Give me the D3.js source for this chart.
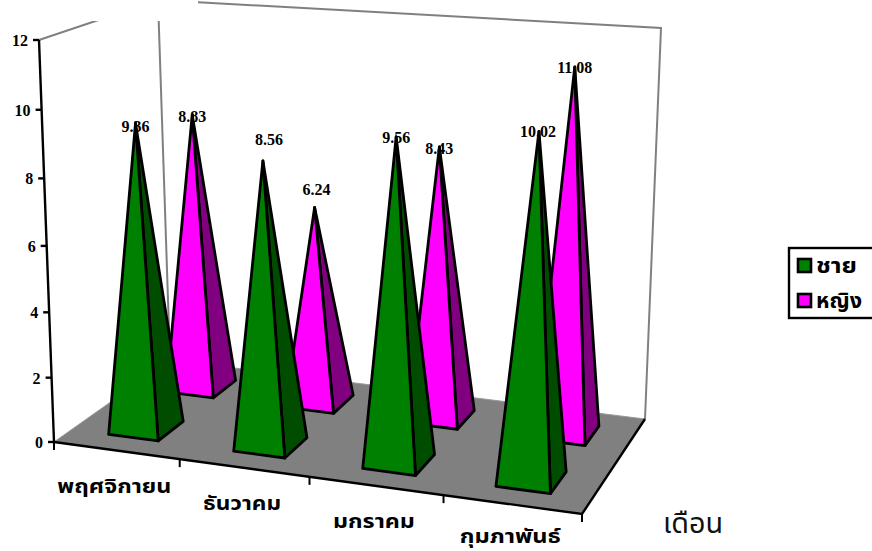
<!DOCTYPE html>
<html><head><meta charset="utf-8">
<script src="https://cdn.jsdelivr.net/npm/d3@7"></script>
<style>html,body{margin:0;padding:0;background:#fff;overflow:hidden}svg{display:block}</style>
</head><body><svg id="c" width="872" height="551"></svg>
<script>
const categories = ["พฤศจิกายน","ธันวาคม","มกราคม","กุมภาพันธ์"];
const seriesNames = ["ชาย","หญิง"];
const male = [9.36,8.56,9.56,10.02];
const female = [8.83,6.24,8.43,11.08];
const valueTicks = [0,2,4,6,8,10,12];
const axisTitle = "เดือน";
const colors = {"ชาย":["#008000","#004d00"],"หญิง":["#ff00ff","#800080"]};

const floorQuad=[[54,442],[582,514],[645,419],[170,360]];
const topQuad=[[39,40],[600,78],[661,28],[158,0]];
function homography(q){
  const [[x0,y0],[x1,y1],[x2,y2],[x3,y3]]=q;
  const dx1=x1-x2,dx2=x3-x2,sx=x0-x1+x2-x3,dy1=y1-y2,dy2=y3-y2,sy=y0-y1+y2-y3;
  const den=dx1*dy2-dx2*dy1,g=(sx*dy2-dx2*sy)/den,h=(dx1*sy-sx*dy1)/den;
  const a=x1-x0+g*x1,b=x3-x0+h*x3,d=y1-y0+g*y1,e=y3-y0+h*y3;
  return (u,v)=>{const w=g*u+h*v+1;return [(a*u+b*v+x0)/w,(d*u+e*v+y0)/w];};
}
const hF=homography(floorQuad),hT=homography(topQuad);
const yScale=d3.scaleLinear().domain([0,12]).range([0,1]);
const uScale=d3.scaleBand().domain(categories).range([0,1]);
const vScale=d3.scaleBand().domain(seriesNames).range([0,1]);
const bend=1.05;
function project(u,v,val){
  const w=yScale(val),s=w/(w+(1-w)*bend),f=hF(u,v),t=hT(u,v);
  return [f[0]+(t[0]-f[0])*s,f[1]+(t[1]-f[1])*s];
}
const svg=d3.select("#c");
const line=d3.line();
const gray="#808080";
const wall=(pts,c,sw)=>svg.append("path").attr("d",line(pts)).attr("fill","none").attr("stroke",c).attr("stroke-width",sw).attr("stroke-linejoin","miter");
// walls
wall([project(0,0,12),project(0,1,12),project(1,1,12),project(1,1,0)],gray,2);
wall([project(0,1,12),project(0,1,0)],gray,2);
// floor
svg.append("path").attr("d",line([[0,0],[1,0],[1,1],[0,1]].map(p=>project(p[0],p[1],0)))+"Z").attr("fill",gray).attr("stroke","#999").attr("stroke-width",1);
// title mask
svg.append("rect").attr("x",0).attr("y",0).attr("width",198).attr("height",21).attr("fill","#fff");
// pyramids
const halfU=0.2,halfV=0.22;
const rows=[{name:"หญิง",vals:female},{name:"ชาย",vals:male}];
const labelShift={"ชาย":[[0,9],[6,-16],[0,6],[-1,6]],"หญิง":[[0,7],[2,-12],[0,7],[0,6]]};
rows.forEach(r=>{
  const vc=vScale(r.name)+vScale.bandwidth()/2;
  r.vals.forEach((val,i)=>{
    const uc=uScale(categories[i])+uScale.bandwidth()/2;
    const uw=uScale.bandwidth()*halfU,vw=vScale.bandwidth()*halfV;
    const fl=project(uc-uw,vc-vw,0),fr=project(uc+uw,vc-vw,0),br=project(uc+uw,vc+vw,0),apex=project(uc,vc,val);
    svg.append("path").attr("d",line([fr,br,apex])+"Z").attr("fill",colors[r.name][1]).attr("stroke","#000").attr("stroke-width",2.8).attr("stroke-linejoin","round");
    svg.append("path").attr("d",line([fl,fr,apex])+"Z").attr("fill",colors[r.name][0]).attr("stroke","#000").attr("stroke-width",2.8).attr("stroke-linejoin","round");
  });
});
// axes
wall([project(0,0,0),project(0,0,12)],"#000",2.4);
wall([project(0,0,0),project(1,0,0),project(1,1,0)],"#000",2.4);
valueTicks.forEach(t=>{
  const p=project(0,0,t);
  wall([[p[0]-6,p[1]],p],"#000",2.4);
  svg.append("text").attr("x",p[0]-11).attr("y",p[1]+6).attr("text-anchor","end")
    .attr("font-family","Liberation Serif").attr("font-weight","bold").attr("font-size",16).attr("fill","#000").text(t);
});
d3.range(0,5).forEach(i=>{
  const p=project(i/4,0,0);
  wall([p,[p[0],p[1]+8]],"#000",2);
});
// category labels
const catFont='"Noto Sans Thai","Noto Sans",Loma,"DejaVu Sans",sans-serif';
const catWidths=[114,78,82,101];
categories.forEach((c,i)=>{
  const p=project((i+0.5)/4,0,0);
  svg.append("text").attr("x",p[0]-2).attr("y",Math.min(p[1]+42,543)).attr("text-anchor","middle")
    .attr("font-family",catFont).attr("font-weight","bold").attr("font-size",20).attr("fill","#000")
    .attr("textLength",catWidths[i]).attr("lengthAdjust","spacingAndGlyphs").text(c);
});
svg.append("text").attr("x",663).attr("y",533).attr("font-family",catFont).attr("font-size",28).attr("fill","#111")
  .attr("textLength",60).attr("lengthAdjust","spacingAndGlyphs").text(axisTitle);
// data labels
rows.forEach(r=>{
  const vc=vScale(r.name)+vScale.bandwidth()/2;
  r.vals.forEach((val,i)=>{
    const uc=uScale(categories[i])+uScale.bandwidth()/2;
    const a=project(uc,vc,val),s=labelShift[r.name][i];
    svg.append("text").attr("x",a[0]+s[0]).attr("y",a[1]+s[1]).attr("text-anchor","middle")
      .attr("font-family","Liberation Serif").attr("font-weight","bold").attr("font-size",16).attr("fill","#000").text(val.toFixed(2));
  });
});
// legend
svg.append("rect").attr("x",789).attr("y",248).attr("width",90).attr("height",70).attr("fill","#fff").attr("stroke","#000").attr("stroke-width",2.4);
const legWidths=[41,46];
seriesNames.forEach((n,i)=>{
  const y=i?294:259;
  svg.append("rect").attr("x",798).attr("y",y).attr("width",13).attr("height",13).attr("fill",colors[n][0]).attr("stroke","#000").attr("stroke-width",2.6);
  svg.append("text").attr("x",816).attr("y",y+14).attr("font-family",catFont).attr("font-weight","bold").attr("font-size",21).attr("fill","#000")
    .attr("textLength",legWidths[i]).attr("lengthAdjust","spacingAndGlyphs").text(n);
});
</script></body></html>
